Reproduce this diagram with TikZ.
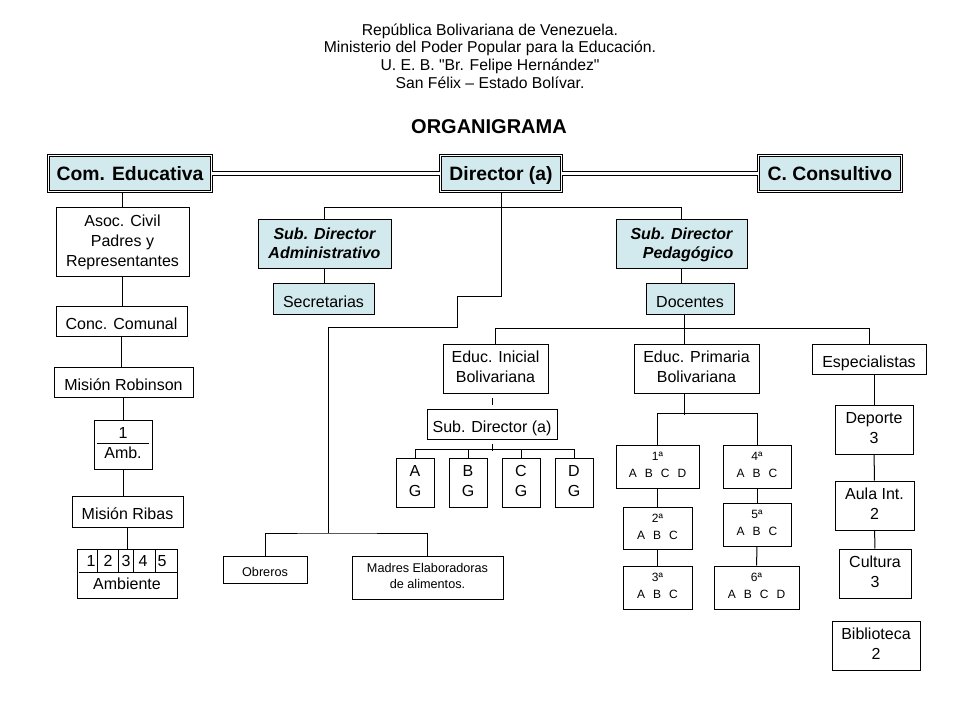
\documentclass[tikz,border=0pt]{standalone}
\usepackage{fontspec}
\setmainfont{Liberation Sans}[Ligatures=TeXOff]
\usetikzlibrary{calc}
\definecolor{boxcyan}{RGB}{210,234,238}
\newlength{\unitpx}
\setlength{\unitpx}{0.75pt}
\newcommand{\sepgap}{\hspace{6pt}}
\newcommand{\boxstrut}{\rule[-0.2em]{0pt}{1.436em}}
\newcommand{\topstrut}{\rule[-0.3em]{0pt}{1.316em}}

\begin{document}
\begin{tikzpicture}[x=0.75pt, y=-0.75pt, line width=0.75pt,
  boxwh/.style 2 args={minimum width=#1\unitpx, minimum height=#2\unitpx},
  box/.style={draw, fill=white, inner sep=0pt, align=center, font=\fontsize{12}{15}\selectfont,
    execute at begin node=\boxstrut, execute at end node=\boxstrut},
  smallbox/.style={box, font=\fontsize{9.5}{12}\selectfont},
  gradebox/.style={box, font=\fontsize{9}{12.75}\selectfont},
  cyanbox/.style={box, fill=boxcyan},
  subbox/.style={box, fill=boxcyan, font=\fontsize{12}{14.25}\selectfont\bfseries\itshape},
  topbox/.style={draw, double, double distance=1.3pt, line width=0.7pt, fill=boxcyan,
    inner sep=0pt, font=\fontsize{14.5}{16}\selectfont\bfseries,
    execute at begin node=\topstrut},
  dbl/.style={double, double distance=2.2pt, line width=0.6pt}]

\useasboundingbox (0,0) rectangle (960,720);

\node[align=center, font=\fontsize{11.8}{13.2}\selectfont] (header) at (490,56)
  {República Bolivariana de Venezuela.\\Ministerio del Poder Popular para la Educación.\\
   U. E. B. "Br. Felipe Hernández"\\San Félix – Estado Bolívar.};
\node[font=\fontsize{15}{17}\selectfont\bfseries] (title) at (489,127) {ORGANIGRAMA};

\node[topbox, boxwh={163}{36}] (comed) at (130,173.5) {Com. Educativa};
\node[topbox, boxwh={121}{36}] (director) at (501,173.5) {Director (a)};
\node[topbox, boxwh={143}{36}] (consult) at (830,173.5) {C. Consultivo};
\draw[dbl] (comed.east) -- (director.west);
\draw[dbl] (director.east) -- (consult.west);

\node[box, boxwh={133}{69}] (asoc) at (122.5,242.5) {Asoc. Civil\\Padres y\\Representantes};
\node[box, boxwh={131}{29}] (conc) at (121.5,321.5) {Conc. Comunal};
\node[box, boxwh={139}{30}] (robinson) at (123.5,382) {Misión Robinson};
\node[box, boxwh={58}{49}] (robamb) at (123,444.5) {1\\Amb.};
\node[box, boxwh={111}{31}] (ribas) at (127.5,511.5) {Misión Ribas};
\node[box, boxwh={100}{49}] (ambiente) at (127,573.5) {};
\node[font=\fontsize{12}{15}\selectfont] (ambtext) at (127,584) {Ambiente};
\foreach \d/\x in {1/91,2/108,3/126,4/143,5/162}
  \node[font=\fontsize{12}{15}\selectfont] (dig\d) at (\x,561) {\d};
\draw ($(robamb.west)+(3,-1.5)$) -- ($(robamb.east)+(-4,-1.5)$);
\draw ($(ambiente.west)+(2,-1.5)$) -- ($(ambiente.east)+(-1,-1.5)$);
\foreach \x in {97,118,133,155}
  \draw (\x,549) -- (\x,572);

\draw (asoc.north) -- (asoc.north |- comed.south);
\foreach \a/\b in {asoc/conc, conc/robinson, robinson/robamb, robamb/ribas, ribas/ambiente}
  \draw (\a.south) -- (\a.south |- \b.north);

\node[subbox, boxwh={133}{49}] (subadm) at (324.5,244.5) {Sub. Director\\Administrativo};
\node[cyanbox, boxwh={101}{30}] (secret) at (323.5,299) {Secretarias};
\node[subbox, boxwh={131}{49}] (subped) at (681.5,244.5) {Sub. Director\\\hspace*{10pt}Pedagógico};
\node[cyanbox, boxwh={88}{30}] (docentes) at (690,299) {Docentes};
\draw (director.south) -- (director.south |- subadm.north);
\draw (subadm.north) -- ++(0,-12) -| (subped.north);
\draw (subadm.south) -- (subadm.south |- secret.north);
\draw (subped.south) -- (subped.south |- docentes.north);

\node[smallbox, boxwh={84}{27}] (obreros) at (265,569.5) {Obreros};
\node[smallbox, boxwh={151}{43}] (madres) at (427.5,577.5) {Madres Elaboradoras\\de alimentos.};
\coordinate (obbar) at (328,533);
\draw (director.south) -- ++(0,105) -| ++(-44,31) -| (obbar);
\draw (obreros.north) |- (obbar) -| (madres.north);

\node[box, boxwh={105}{49}] (einicial) at (495.5,368.5) {Educ. Inicial\\Bolivariana};
\node[box, boxwh={125}{49}] (primaria) at (696.5,368.5) {Educ. Primaria\\Bolivariana};
\node[box, boxwh={114}{30}] (especial) at (869,359) {Especialistas};
\coordinate (primtop) at ($(primaria.north)+(-12,0)$);
\coordinate (primbot) at ($(primaria.south)+(-12,0)$);
\draw (einicial.north) -- ++(0,-15) -| (especial.north);
\draw (primtop) -- (primtop |- docentes.south);

\node[box, boxwh={130}{30}] (subdira) at (492,424) {Sub. Director (a)};
\draw[shorten <=3pt, shorten >=3pt] (subdira.north) -- (subdira.north |- einicial.south);
\foreach \n/\x in {A/415,B/468,C/521,D/574}
  \node[box, boxwh={38}{49}] (g\n) at (\x,482.5) {\n\\G};
\draw[shorten <=3pt] (subdira.south) -- ++(0,11);
\draw (gA.north) -- ++(0,-8) -| (gD.north);
\draw (gB.north) -- ++(0,-8);
\draw (gC.north) -- ++(0,-8);

\node[gradebox, boxwh={83}{43}] (p1) at (657.5,466.5) {1ª\\A\sepgap B\sepgap C\sepgap D};
\node[gradebox, boxwh={69}{42}] (p2) at (657.5,528) {2ª\\A\sepgap B\sepgap C};
\node[gradebox, boxwh={69}{43}] (p3) at (657.5,587.5) {3ª\\A\sepgap B\sepgap C};
\node[gradebox, boxwh={68}{43}] (p4) at (757,466.5) {4ª\\A\sepgap B\sepgap C};
\node[gradebox, boxwh={68}{43}] (p5) at (757,524.5) {5ª\\A\sepgap B\sepgap C};
\node[gradebox, boxwh={85}{43}] (p6) at (756.5,587.5) {6ª\\A\sepgap B\sepgap C\sepgap D};
\draw (primbot) -- ++(0,21);
\draw (p1.north) -- ++(0,-31) -| (p4.north);
\draw (p1) -- (p2);
\draw (p2) -- (p3);
\draw (p4) -- (p5);
\draw (p5) -- (p6);

\node[box, boxwh={78}{49}] (deporte) at (874,429.5) {Deporte\\3};
\node[box, boxwh={79}{49}] (aula) at (874.5,505.5) {Aula Int.\\2};
\node[box, boxwh={72}{49}] (cultura) at (875,573.5) {Cultura\\3};
\node[box, boxwh={88}{49}] (biblio) at (876,645.5) {Biblioteca\\2};
\draw (deporte.north) -- (deporte.north |- especial.south);
\draw (deporte) -- (aula);
\draw (aula) -- (cultura);

\end{tikzpicture}
\end{document}
